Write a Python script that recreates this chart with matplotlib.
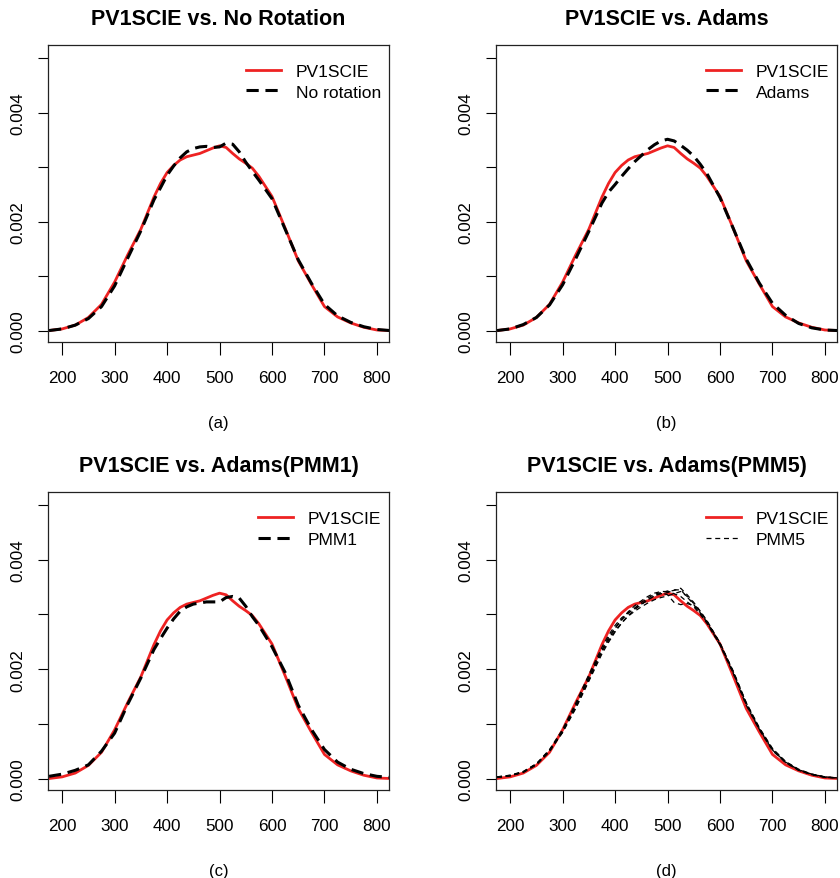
#!/usr/bin/env python3
"""Density of PV1SCIE plausible values against the rotated/imputed alternatives."""

from __future__ import annotations

import matplotlib

matplotlib.use("Agg")
import matplotlib.pyplot as plt

OUT_PATH = "out.png"

# score grid the densities were read on (finer around the peak)
SCORE = [175, 200, 225, 250, 275, 300, 325, 350, 375, 387.5, 400, 412.5, 425, 437.5,
         450, 462.5, 475, 487.5, 500, 512.5, 525, 537.5, 550, 562.5, 575, 600,
         625, 650, 675, 700, 725, 750, 775, 800, 825]

PV1SCIE = [0.00000, 0.00003, 0.00010, 0.00024, 0.00048, 0.00089, 0.00139, 0.00186,
           0.00245, 0.00270, 0.00290, 0.00303, 0.00313, 0.00319, 0.00322, 0.00325,
           0.00330, 0.00335, 0.00339, 0.00336, 0.00325, 0.00315, 0.00307, 0.00298,
           0.00283, 0.00246, 0.00188, 0.00128, 0.00085, 0.00044, 0.00025, 0.00014,
           0.00006, 0.00001, 0.00000]

NO_ROTATION = [0.00000, 0.00003, 0.00010, 0.00022, 0.00044, 0.00082, 0.00133, 0.00183,
               0.00240, 0.00262, 0.00285, 0.00302, 0.00317, 0.00328, 0.00334, 0.00337,
               0.00338, 0.00336, 0.00337, 0.00344, 0.00342, 0.00328, 0.00309, 0.00292,
               0.00276, 0.00242, 0.00186, 0.00130, 0.00087, 0.00048, 0.00027, 0.00015,
               0.00007, 0.00002, 0.00000]

ADAMS = [0.00000, 0.00003, 0.00011, 0.00024, 0.00047, 0.00084, 0.00132, 0.00182,
         0.00234, 0.00254, 0.00268, 0.00283, 0.00297, 0.00310, 0.00321, 0.00332,
         0.00341, 0.00348, 0.00351, 0.00348, 0.00340, 0.00331, 0.00320, 0.00305,
         0.00288, 0.00244, 0.00188, 0.00131, 0.00087, 0.00050, 0.00028, 0.00013,
         0.00005, 0.00001, 0.00000]

PMM1 = [0.00004, 0.00008, 0.00015, 0.00025, 0.00050, 0.00083, 0.00136, 0.00184,
        0.00236, 0.00256, 0.00275, 0.00292, 0.00306, 0.00314, 0.00319, 0.00321,
        0.00323, 0.00323, 0.00323, 0.00331, 0.00333, 0.00330, 0.00315, 0.00296,
        0.00280, 0.00241, 0.00194, 0.00134, 0.00090, 0.00053, 0.00030, 0.00017,
        0.00009, 0.00004, 0.00002]

PMM5_1 = [0.00002, 0.00005, 0.00012, 0.00026, 0.00052, 0.00086, 0.00130, 0.00180,
          0.00232, 0.00252, 0.00270, 0.00285, 0.00298, 0.00309, 0.00318, 0.00327,
          0.00334, 0.00338, 0.00340, 0.00345, 0.00345, 0.00332, 0.00318, 0.00303,
          0.00286, 0.00244, 0.00193, 0.00134, 0.00090, 0.00052, 0.00030, 0.00016,
          0.00008, 0.00003, 0.00001]
PMM5_2 = [0.00003, 0.00006, 0.00013, 0.00027, 0.00050, 0.00088, 0.00135, 0.00186,
          0.00236, 0.00258, 0.00276, 0.00290, 0.00302, 0.00312, 0.00322, 0.00330,
          0.00337, 0.00340, 0.00336, 0.00322, 0.00318, 0.00320, 0.00316, 0.00302,
          0.00287, 0.00247, 0.00195, 0.00137, 0.00092, 0.00054, 0.00031, 0.00017,
          0.00008, 0.00003, 0.00001]
PMM5_3 = [0.00002, 0.00005, 0.00011, 0.00025, 0.00049, 0.00085, 0.00133, 0.00184,
          0.00234, 0.00255, 0.00274, 0.00291, 0.00305, 0.00316, 0.00325, 0.00333,
          0.00339, 0.00342, 0.00342, 0.00344, 0.00348, 0.00336, 0.00322, 0.00306,
          0.00289, 0.00248, 0.00196, 0.00138, 0.00091, 0.00053, 0.00029, 0.00015,
          0.00007, 0.00002, 0.00001]
PMM5_4 = [0.00003, 0.00006, 0.00012, 0.00026, 0.00051, 0.00084, 0.00128, 0.00178,
          0.00228, 0.00249, 0.00268, 0.00284, 0.00297, 0.00306, 0.00314, 0.00321,
          0.00327, 0.00331, 0.00334, 0.00338, 0.00342, 0.00333, 0.00320, 0.00305,
          0.00288, 0.00247, 0.00197, 0.00139, 0.00093, 0.00055, 0.00031, 0.00016,
          0.00008, 0.00003, 0.00001]
PMM5_5 = [0.00002, 0.00005, 0.00012, 0.00027, 0.00053, 0.00090, 0.00138, 0.00190,
          0.00240, 0.00262, 0.00280, 0.00294, 0.00303, 0.00311, 0.00319, 0.00327,
          0.00334, 0.00339, 0.00343, 0.00338, 0.00333, 0.00323, 0.00314, 0.00300,
          0.00284, 0.00244, 0.00193, 0.00135, 0.00089, 0.00051, 0.00029, 0.00015,
          0.00007, 0.00002, 0.00001]
PMM5 = [PMM5_1, PMM5_2, PMM5_3, PMM5_4, PMM5_5]

TITLES = ["PV1SCIE vs. No Rotation", "PV1SCIE vs. Adams",
          "PV1SCIE vs. Adams(PMM1)", "PV1SCIE vs. Adams(PMM5)"]
PANEL_TAGS = ["(a)", "(b)", "(c)", "(d)"]
X_TICKS = [200, 300, 400, 500, 600, 700, 800]
Y_TICKS = [0.000, 0.001, 0.002, 0.003, 0.004, 0.005]
Y_TICK_LABELS = ["0.000", "", "0.002", "", "0.004", ""]

W, H = 840, 879
# axes boxes in pixels: left, top, right, bottom
BOXES = [(48, 46, 389, 343), (496, 46, 837, 343),
         (48, 493, 389, 791), (496, 493, 837, 791)]

RED = "#ee2222"


def style_axis(ax, title: str, tag: str) -> None:
    ax.set_xlim(173, 823)
    ax.set_ylim(-0.00021, 0.00524)
    ax.set_xticks(X_TICKS)
    ax.set_yticks(Y_TICKS)
    ax.set_yticklabels(Y_TICK_LABELS, rotation=90, va="center")
    ax.tick_params(axis="x", length=9, width=0.8, pad=11, labelsize=12.3)
    ax.tick_params(axis="y", length=7.5, width=0.8, pad=9, labelsize=12.3)
    for spine in ax.spines.values():
        spine.set_linewidth(0.9)
        spine.set_color("#222222")
    ax.set_title(title, fontsize=15.5, fontweight="bold", pad=15)
    ax.set_xlabel(tag, fontsize=12, labelpad=22)


def legend(ax, handles, labels) -> None:
    ax.legend(handles, labels, loc="upper right", frameon=False, fontsize=12.5,
              bbox_to_anchor=(1 - 8 / 341, 1 - 19 / 297), borderaxespad=0, borderpad=0,
              handlelength=2.0, handletextpad=0.85, labelspacing=0.3)


def main() -> None:
    plt.rcParams["font.family"] = ["Liberation Sans", "DejaVu Sans"]
    fig = plt.figure(figsize=(W / 100, H / 100), dpi=100)
    axes = []
    for left, top, right, bottom in BOXES:
        axes.append(fig.add_axes([left / W, 1 - bottom / H, (right - left) / W, (bottom - top) / H]))

    pairs = [(NO_ROTATION, "No rotation"), (ADAMS, "Adams"), (PMM1, "PMM1")]
    for ax, (series, name) in zip(axes[:3], pairs):
        red, = ax.plot(SCORE, PV1SCIE, color=RED, lw=2.0, solid_joinstyle="round")
        black, = ax.plot(SCORE, series, color="black", lw=2.2, dashes=(4, 2.2))
        legend(ax, [red, black], ["PV1SCIE", name])

    ax = axes[3]
    red, = ax.plot(SCORE, PV1SCIE, color=RED, lw=2.0, solid_joinstyle="round")
    thin = None
    for series in PMM5:
        thin, = ax.plot(SCORE, series, color="black", lw=0.9, dashes=(4, 3))
    legend(ax, [red, thin], ["PV1SCIE", "PMM5"])

    for ax, title, tag in zip(axes, TITLES, PANEL_TAGS):
        style_axis(ax, title, tag)

    fig.savefig(OUT_PATH, dpi=100)
    plt.close(fig)


if __name__ == "__main__":
    main()
